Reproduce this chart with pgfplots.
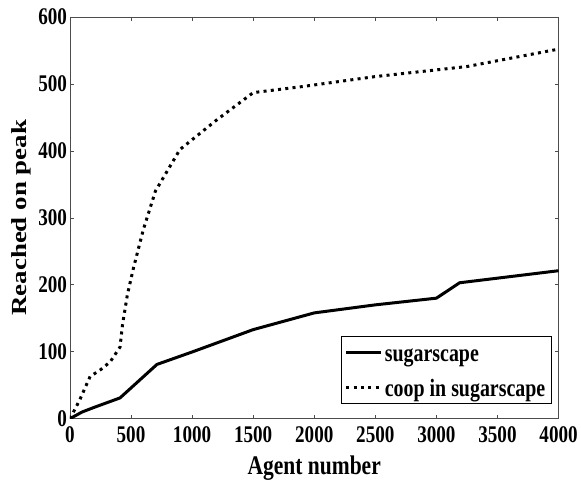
\documentclass[border=0pt]{standalone}
\usepackage{fontspec}
\setmainfont{Liberation Serif}
\newfontfamily\condserif[FakeStretch=0.8]{Liberation Serif}
\usepackage{graphicx}
\usepackage{pgfplots}
\pgfplotsset{compat=1.18}
\begin{document}
\begin{tikzpicture}
\begin{axis}[
  scale only axis,
  width=489bp, height=402bp,
  xmin=0, xmax=4000, ymin=0, ymax=600,
  xtick={0,500,...,4000}, ytick={0,100,...,600},
  tick align=inside, tick pos=both,
  major tick length=4bp,
  axis line style={line width=0.6pt, black!70},
  tick style={line width=0.6pt, black!70},
  /pgf/number format/assume math mode=true,
  /pgf/number format/1000 sep={},
  ticklabel style={font=\condserif\fontsize{24}{26}\selectfont\bfseries},
  xticklabel style={yshift=-4.5bp},
  yticklabel style={xshift=0.5bp},
  xlabel={Agent number},
  xlabel style={font=\condserif\fontsize{27}{29}\selectfont\bfseries,
    at={(axis description cs:0.5,0)}, anchor=base, yshift=-56bp},
  ylabel={\scalebox{1}[0.8]{Reached on peak}},
  ylabel style={font=\fontsize{27}{29}\selectfont\bfseries,
    at={(axis description cs:-0.0879,0.5)}, anchor=base},
  legend style={font=\condserif\fontsize{25}{27}\selectfont\bfseries,
    draw=black, line width=0.6pt,
    at={(0.9857,0.0373)}, anchor=south east,
    inner xsep=4bp, inner ysep=2bp, row sep=7bp,
    nodes={inner sep=2bp, text height=21bp, text depth=3bp}},
  legend cell align=left,
  legend image code/.code={\draw[#1] (0bp,0bp) -- (35bp,0bp);},
]
% agents alone
\addplot[black, line width=3bp] coordinates {
  (0,0) (100,10) (200,17) (410,31) (712,81) (1006,100) (1500,133)
  (2000,158) (2500,170) (3000,180) (3190,203) (4000,221)
};
\addlegendentry{sugarscape}
% cooperating agents
\addplot[black, line width=3bp, dash pattern=on 3bp off 4.3bp] coordinates {
  (0,0) (80,28) (165,63) (250,73) (330,85) (410,107) (430,140) (470,185)
  (520,225) (600,282) (700,340) (900,402) (1200,446) (1500,487)
  (1900,496) (2500,511) (3000,521) (3250,526) (4000,552)
};
\addlegendentry{coop in sugarscape}
\end{axis}
% page extent around the axis box
\path ([shift={(-70bp,-64bp)}]current axis.south west)
  rectangle ([shift={(22bp,17bp)}]current axis.north east);
\end{tikzpicture}
\end{document}
